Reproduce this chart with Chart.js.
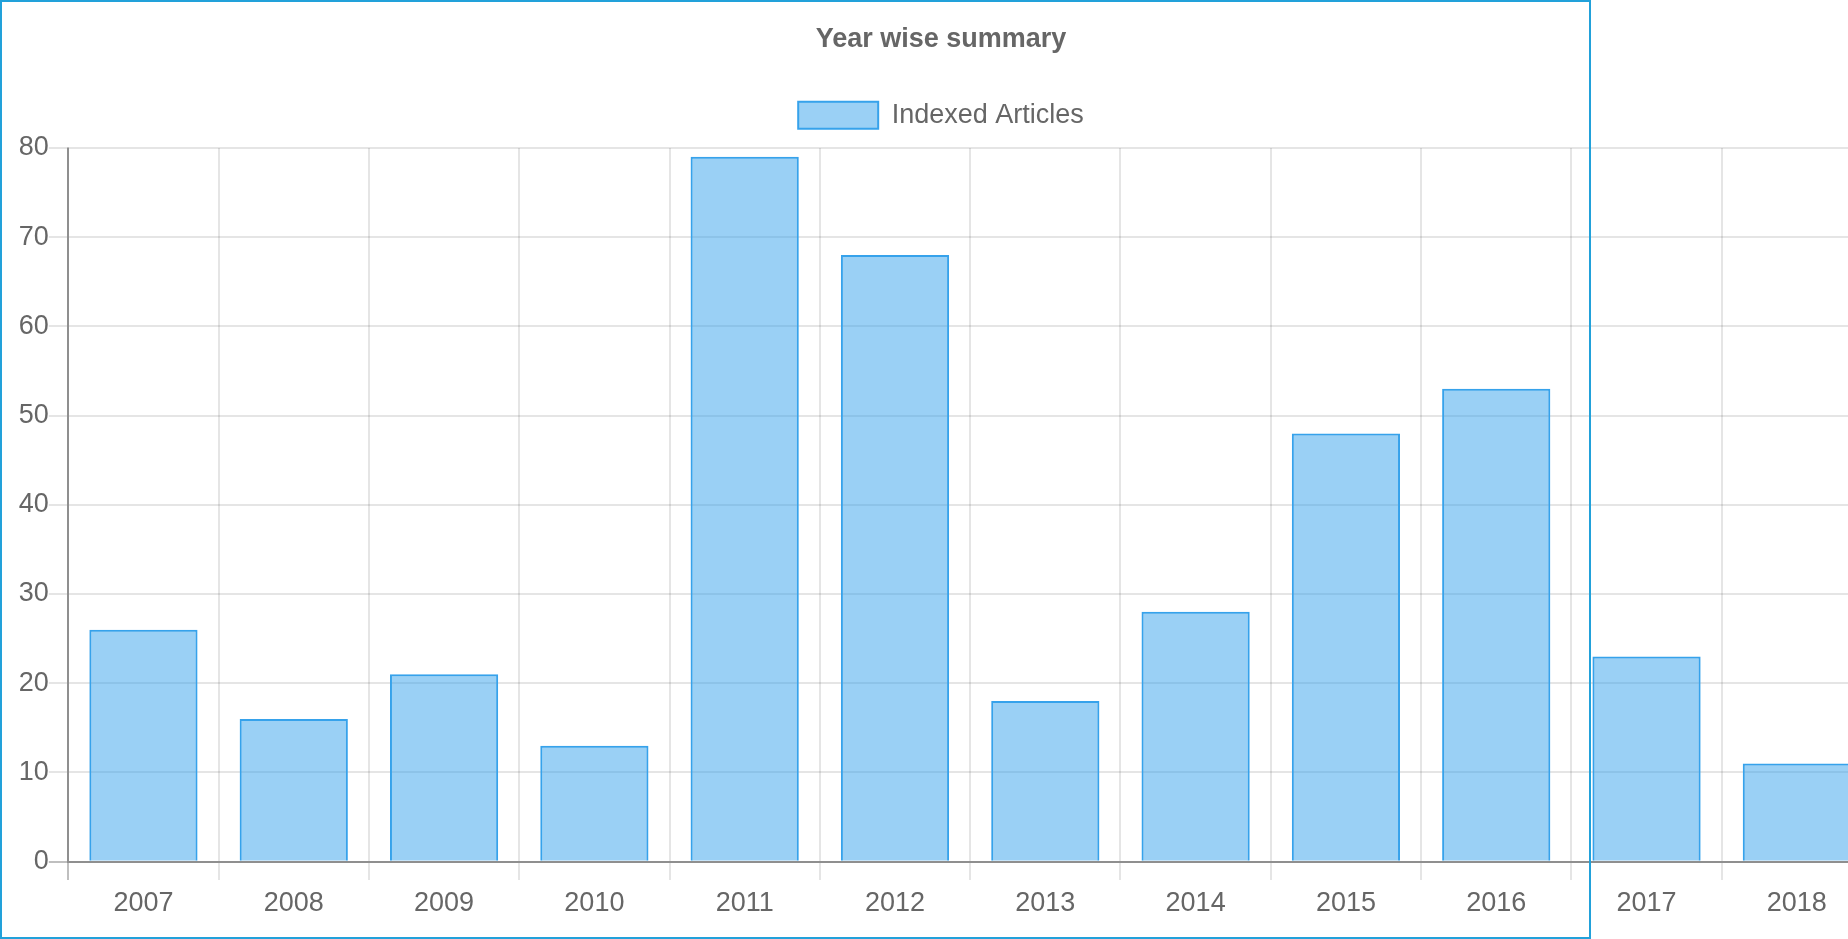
<!DOCTYPE html>
<html>
<head>
<meta charset="utf-8">
<title>Year wise summary</title>
<script src="https://cdn.jsdelivr.net/npm/chart.js@4/dist/chart.umd.min.js"></script>
<style>
	html, body { margin: 0; padding: 0; background: #fff; overflow: hidden; }
	#frame {
		position: absolute; left: 0; top: 0;
		width: 1591px; height: 939px;
		box-sizing: border-box;
		border: 2px solid #22a1da;
		pointer-events: none;
		z-index: 2;
	}
	#yearChart { position: absolute; left: 0; top: 0; }
</style>
</head>
<body>
<canvas id="yearChart" width="1882" height="930"></canvas>
<div id="frame"></div>
<script>
var years = ['2007', '2008', '2009', '2010', '2011', '2012', '2013', '2014', '2015', '2016', '2017', '2018'];
var indexedArticles = [26, 16, 21, 13, 79, 68, 18, 28, 48, 53, 23, 11];
var yMin = 0;
var yMax = 80;
var yStep = 10;

var fontFamily = "'Liberation Sans', Arial, Helvetica, sans-serif";
var gridColor = 'rgba(0, 0, 0, 0.1)';
var zeroColor = 'rgba(0, 0, 0, 0.25)';

// legend in v4 leaves less room under the items than the old one did
var legendSpacer = {
	id: 'legendSpacer',
	beforeInit: function(chart) {
		if (!chart.legend) return;
		var fit = chart.legend.fit;
		chart.legend.fit = function() {
			fit.call(this);
			this.height += 9.1;
		};
	}
};

Chart.defaults.font.family = fontFamily;
Chart.defaults.color = '#666';

new Chart(document.getElementById('yearChart').getContext('2d'), {
	type: 'bar',
	data: {
		labels: years,
		datasets: [{
			label: 'Indexed Articles',
			data: indexedArticles,
			backgroundColor: 'rgba(54, 162, 235, 0.5)',
			borderColor: 'rgb(54, 162, 235)',
			borderWidth: 2
		}]
	},
	plugins: [legendSpacer],
	options: {
		responsive: false,
		animation: false,
		devicePixelRatio: 1,
		layout: {
			padding: { left: 10, right: 10, top: 0, bottom: 2.6 }
		},
		plugins: {
			title: {
				display: true,
				text: 'Year wise summary',
				color: '#666',
				font: { size: 27, weight: 'bold', lineHeight: 1.2 },
				padding: { top: 23.7, bottom: 23.7 }
			},
			legend: {
				display: true,
				labels: {
					boxWidth: 80,
					boxHeight: 27,
					padding: 22,
					color: '#666',
					font: { size: 27 }
				}
			},
			tooltip: { enabled: false }
		},
		scales: {
			x: {
				grid: {
					offset: true,
					lineWidth: 2,
					tickLength: 18.3,
					color: function(ctx) {
						return ctx.index === 0 ? zeroColor : gridColor;
					}
				},
				border: { color: zeroColor, width: 2 },
				ticks: {
					padding: 7.5,
					color: '#666',
					font: { size: 27, lineHeight: 1.2 }
				}
			},
			y: {
				min: yMin,
				max: yMax,
				afterFit: function(axis) {
					axis.width = 58.3;
				},
				grid: {
					lineWidth: 2,
					tickLength: 19.5,
					color: function(ctx) {
						return ctx.tick && ctx.tick.value === 0 ? zeroColor : gridColor;
					}
				},
				border: { color: zeroColor, width: 2 },
				ticks: {
					stepSize: yStep,
					padding: 0,
					color: '#666',
					font: { size: 27, lineHeight: 1.2 }
				}
			}
		}
	}
});
</script>
</body>
</html>
